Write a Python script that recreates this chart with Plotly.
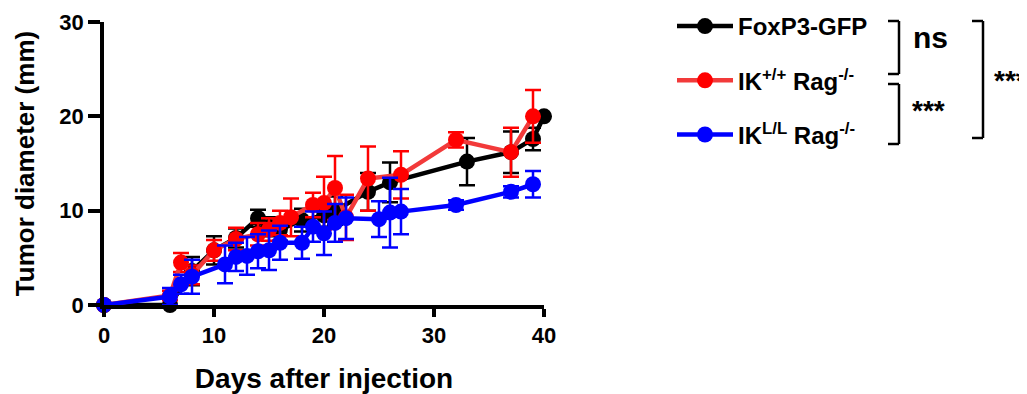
import plotly.graph_objects as go

# ---- data ----
black_days = [0, 6, 8, 10, 12, 14, 15, 16, 18, 20, 21, 24, 26, 33, 37, 39, 40]
black_vals = [0, 0, 3.6, 5.8, 7.1, 9.2, 8.3, 8.0, 9.0, 9.5, 10.0, 12.0, 13.0, 15.2, 16.2, 17.6, 20.0]
black_err = [0, 0, 1.5, 1.5, 1.0, 0.9, 1.0, 1.2, 1.2, 1.2, 1.5, 2.0, 2.1, 2.5, 2.2, 1.2, 0]

red_days = [0, 6, 7, 8, 10, 12, 14, 15, 16, 17, 19, 20, 21, 22, 24, 27, 32, 37, 39]
red_vals = [0, 1.0, 4.5, 3.2, 5.8, 7.0, 7.5, 8.0, 8.7, 9.3, 10.6, 10.8, 12.4, 9.3, 13.4, 13.8, 17.5, 16.2, 20.0]
red_err = [0, 0.5, 1.0, 1.0, 1.1, 1.2, 1.2, 1.2, 1.3, 2.0, 1.3, 2.8, 3.4, 2.4, 3.4, 2.5, 0.8, 2.6, 2.8]

blue_days = [0, 6, 7, 8, 11, 12, 13, 14, 15, 16, 18, 19, 20, 21, 22, 25, 26, 27, 32, 37, 39]
blue_vals = [0, 0.9, 2.2, 3.0, 4.3, 5.1, 5.2, 5.7, 5.8, 6.6, 6.6, 8.3, 7.6, 8.7, 9.2, 9.1, 9.8, 9.9, 10.6, 12.0, 12.8]
blue_err = [0, 0.9, 1.0, 1.8, 2.0, 1.5, 2.0, 1.8, 2.1, 1.8, 1.7, 1.6, 2.3, 2.0, 2.2, 1.9, 3.7, 2.4, 0.5, 0.6, 1.4]

series_names = ["FoxP3-GFP", "IK<sup>+/+</sup> Rag<sup>-/-</sup>", "IK<sup>L/L</sup> Rag<sup>-/-</sup>"]

x_ticks = [0, 10, 20, 30, 40]
y_ticks = [0, 10, 20, 30]

FONT = "Liberation Sans, Arial, sans-serif"

# page-pixel geometry of the plot area (page has 8px body margin)
OFF = 8
L, R, T, B = 104, 544, 22, 305
PW, PH = 1027, 394
W, H = PW - OFF, PH - OFF


def px(x):
    return (x - L) / (R - L)


def py(y):
    return (B - y) / (B - T)


fig = go.Figure()

specs = [
    (black_days, black_vals, black_err, "#000000", "#000000", series_names[0]),
    (red_days, red_vals, red_err, "#FF0000", "#F23A3A", series_names[1]),
    (blue_days, blue_vals, blue_err, "#0000FF", "#0000FF", series_names[2]),
]
for i, (xd, yd, ed, mc, lc, nm) in enumerate(specs):
    fig.add_trace(go.Scatter(
        x=xd, y=yd, name=nm, mode="lines+markers",
        line=dict(color=lc, width=4.5),
        marker=dict(color=mc, size=16, symbol="circle"),
        error_y=dict(type="data", array=ed, visible=True, color=mc, thickness=2.5, width=8),
        cliponaxis=False,
        legendgroup=f"g{i}",
    ))

fig.update_layout(
    width=W, height=H,
    margin=dict(l=L - OFF, r=PW - R, t=T - OFF, b=PH - B, pad=0, autoexpand=False),
    paper_bgcolor="white", plot_bgcolor="white",
    font=dict(family=FONT, color="black", size=20, weight="bold"),
    showlegend=True,
    legend=dict(
        x=px(672), y=py(4), xanchor="left", yanchor="top",
        traceorder="grouped", tracegroupgap=20,
        font=dict(family=FONT, size=24, color="black", weight="bold"),
        bgcolor="rgba(0,0,0,0)", itemwidth=56,
    ),
    xaxis=dict(
        range=[0, 40], tickvals=x_ticks, ticktext=[str(v) for v in x_ticks],
        showline=True, linecolor="black", linewidth=3.5, mirror=False,
        ticks="outside", ticklen=8, tickwidth=3.5, tickcolor="black",
        showgrid=False, zeroline=False,
        tickfont=dict(family=FONT, size=22, color="black", weight="bold"),
        title=dict(text="Days after injection", standoff=22,
                   font=dict(family=FONT, size=28, color="black", weight="bold")),
    ),
    yaxis=dict(
        range=[0, 30], tickvals=y_ticks, ticktext=[str(v) for v in y_ticks],
        showline=True, linecolor="black", linewidth=3.5, mirror=False,
        ticks="outside", ticklen=12, tickwidth=3.5, tickcolor="black",
        showgrid=False, zeroline=False,
        tickfont=dict(family=FONT, size=22, color="black", weight="bold"),
        title=dict(text="Tumor diameter (mm)", standoff=18,
                   font=dict(family=FONT, size=26, color="black", weight="bold")),
    ),
)


# significance brackets
def bracket(x0, x1, y0, y1):
    for (a, b, c, d) in [(x0, y0, x1, y0), (x1, y0, x1, y1), (x0, y1, x1, y1)]:
        fig.add_shape(type="line", xref="paper", yref="paper",
                      x0=px(a), y0=py(b), x1=px(c), y1=py(d),
                      line=dict(color="black", width=2.5))


bracket(888, 899, 21, 74)
bracket(888, 899, 84, 144)
bracket(972, 983, 21, 138)

for txt, x, y, sz in [("ns", 911, 38, 30), ("***", 910, 110, 28), ("***", 992, 80, 28)]:
    fig.add_annotation(text=txt, xref="paper", yref="paper", x=px(x), y=py(y),
                       xanchor="left", yanchor="middle", showarrow=False,
                       font=dict(family=FONT, size=sz, color="black", weight="bold"))

fig.write_html("out.html")
